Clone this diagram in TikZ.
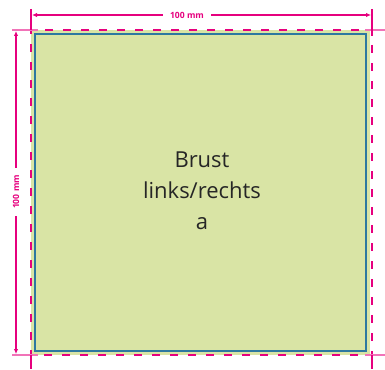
\documentclass[tikz,border=0pt]{standalone}
\usepackage{fontspec}
\setmainfont{Open Sans}
\usetikzlibrary{arrows,arrows.meta}
\definecolor{druckmagenta}{RGB}{230,0,126}
\definecolor{flaeche}{RGB}{217,228,165}
\definecolor{schnittblau}{RGB}{45,120,160}
\tikzstyle{beschnitt}=[druckmagenta, line width=1.6pt, dash pattern=on 8pt off 10pt, dash phase=4pt]
\tikzstyle{masspfeil}=[druckmagenta, line width=1.3pt, -{Latex[length=5pt,width=4.5pt]}]
\tikzstyle{hilfslinie}=[druckmagenta, line width=1.3pt]
\tikzstyle{hilfshell}=[druckmagenta!55, line width=1.3pt]
\tikzstyle{masstext}=[text=druckmagenta, font=\bfseries\fontsize{8.6}{9}\selectfont, inner sep=7pt]

\begin{document}
\begin{tikzpicture}[x=1pt,y=-1pt]
	\useasboundingbox (0,0) rectangle (385,369);
	% Flaeche mit Beschnitt
	\fill[flaeche] (31,30) rectangle (370,355);
	\draw[schnittblau, line width=1.1pt] (35,34) rectangle (366,351);
	\draw[beschnitt] (31,30) -- (372,30) -- (372,355) -- (31,355) -- cycle;
	% Hilfslinien
	\draw[hilfshell] (12,30) -- (38,30);
	\draw[hilfshell] (12,355) -- (38,355);
	\draw[hilfshell] (365,30) -- (385,30);
	\draw[hilfshell] (365,355) -- (385,355);
	\draw[hilfslinie] (31,9) -- (31,30);
	\draw[hilfslinie] (372,9) -- (372,36);
	\draw[hilfslinie] (31,355) -- (31,369);
	\draw[hilfslinie] (372,355) -- (372,369);
	% Masse
	\coordinate (obenL) at (32,15);
	\coordinate (obenR) at (371,15);
	\coordinate (linksO) at (16,31);
	\coordinate (linksU) at (16,354);
	\node[masstext] (breite) at (187,15) {100 mm};
	\node[masstext, rotate=90] (hoehe) at (16,192) {100 mm};
	\draw[masspfeil] (breite) -- (obenL);
	\draw[masspfeil] (breite) -- (obenR);
	\draw[masspfeil] (hoehe) -- (linksO);
	\draw[masspfeil] (hoehe) -- (linksU);
	% Beschriftung
	\node[align=center, text=black!85, font=\fontsize{22}{31}\selectfont] (motiv) at (202,191) {Brust\\links/rechts\\a};
\end{tikzpicture}
\end{document}
